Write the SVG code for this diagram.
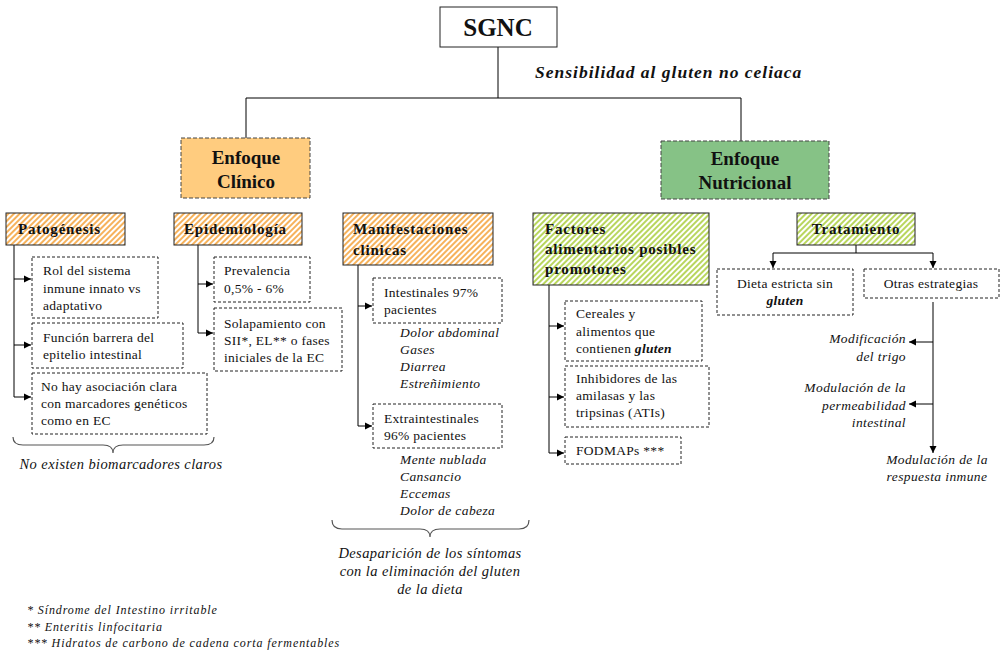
<svg xmlns="http://www.w3.org/2000/svg" width="1004" height="656" viewBox="0 0 1004 656" font-family="'Liberation Serif', 'DejaVu Serif', serif">
  <style>
    text { font-family: "Liberation Serif", "DejaVu Serif", serif; fill: #111; }
    .t { font-size: 13.5px; letter-spacing: 0.3px; }
    .ti { font-size: 13.5px; font-style: italic; letter-spacing: 0.4px; }
    .note { font-size: 14.5px; font-style: italic; letter-spacing: 0.4px; }
    .foot { font-size: 12px; font-style: italic; letter-spacing: 0.9px; }
    .h { font-size: 15px; font-weight: bold; letter-spacing: 0.8px; }
    .big { font-size: 19px; font-weight: bold; text-anchor: middle; }
    .c { text-anchor: middle; }
    .r { text-anchor: end; }
    .box { fill: #fff; stroke: #222; stroke-width: 1; stroke-dasharray: 3 2; }
    .hdr-o { fill: url(#hatchOrange); stroke: #222; stroke-width: 1; }
    .hdr-g { fill: url(#hatchGreen); stroke: #222; stroke-width: 1; }
    .ln { fill: none; stroke: #000; stroke-width: 1; }
    .arr { fill: none; stroke: #000; stroke-width: 1; marker-end: url(#ah); }
    .brace { fill: none; stroke: #555; stroke-width: 1.2; }
  </style>
  <defs>
    <pattern id="hatchOrange" width="4" height="4" patternUnits="userSpaceOnUse" patternTransform="rotate(45)">
      <rect width="4" height="4" fill="#fff"/>
      <rect width="2" height="4" fill="#F6B25C"/>
    </pattern>
    <pattern id="hatchGreen" width="4" height="4" patternUnits="userSpaceOnUse" patternTransform="rotate(45)">
      <rect width="4" height="4" fill="#fff"/>
      <rect width="2" height="4" fill="#B9D65E"/>
    </pattern>
    <marker id="ah" markerWidth="8" markerHeight="8" refX="7" refY="4" orient="auto" markerUnits="userSpaceOnUse">
      <path d="M0,0.5 L7,4 L0,7.5 z" fill="#000"/>
    </marker>
  </defs>

  <!-- connectors -->
  <g id="connectors">
    <path class="ln" d="M498,47 V98 M246,98 H741 M246,98 V138 M741,98 V141"/>
    <!-- Patogénesis -->
    <path class="ln" d="M14,245 V397"/>
    <path class="arr" d="M14,279 H31"/>
    <path class="arr" d="M14,345 H31"/>
    <path class="arr" d="M14,397 H31"/>
    <!-- Epidemiología -->
    <path class="ln" d="M198,245 V333"/>
    <path class="arr" d="M198,284 H213"/>
    <path class="arr" d="M198,333 H213"/>
    <!-- Manifestaciones clínicas -->
    <path class="ln" d="M358,265 V426"/>
    <path class="arr" d="M358,306 H372"/>
    <path class="arr" d="M358,426 H372"/>
    <!-- Factores alimentarios -->
    <path class="ln" d="M549,285 V453"/>
    <path class="arr" d="M549,326 H564"/>
    <path class="arr" d="M549,397 H564"/>
    <path class="arr" d="M549,453 H564"/>
    <!-- Tratamiento -->
    <path class="ln" d="M856,245 V253 M773,253 H933"/>
    <path class="arr" d="M773,253 V268"/>
    <path class="arr" d="M933,253 V268"/>
    <!-- Otras estrategias -->
    <path class="arr" d="M933,302 V453"/>
    <path class="arr" d="M933,342 H909"/>
    <path class="arr" d="M933,404 H909"/>
    <!-- braces -->
    <path class="brace" d="M13,437 Q13,445 23,445 L103,445 Q113,445 113,453 Q113,445 123,445 L204,445 Q214,445 214,437"/>
    <path class="brace" d="M332,520 Q332,529 342,529 L420,529 Q430,529 430,537 Q430,529 440,529 L519,529 Q529,529 529,520"/>
  </g>

  <!-- root -->
  <g id="sgnc">
    <rect x="440" y="7" width="117" height="40" fill="#fff" stroke="#222"/>
    <text x="498" y="36" class="c" style="font-size:25px;font-weight:bold">SGNC</text>
  </g>
  <g id="subtitle">
    <text x="535" y="78" style="font-size:17.5px;font-weight:bold;font-style:italic;letter-spacing:1px">Sensibilidad al gluten no celiaca</text>
  </g>

  <!-- main branches -->
  <g id="enfoque-clinico">
    <rect x="181" y="138" width="129" height="60" fill="#FFCC7F" stroke="#444" stroke-dasharray="4 2"/>
    <text x="246" y="164" class="big">Enfoque</text>
    <text x="246" y="188" class="big">Clínico</text>
  </g>
  <g id="enfoque-nutricional">
    <rect x="661" y="141" width="168" height="58" fill="#86C286" stroke="#444" stroke-dasharray="4 2"/>
    <text x="745" y="165" class="big">Enfoque</text>
    <text x="745" y="189" class="big">Nutricional</text>
  </g>

  <!-- Patogénesis -->
  <g id="patogenesis">
    <rect x="6" y="213" width="119" height="32" class="hdr-o"/>
    <text x="18" y="234" class="h">Patogénesis</text>
  </g>
  <g id="rol-sistema-inmune">
    <rect x="32" y="257" width="126" height="61" class="box"/>
    <text x="43" y="275" class="t">Rol del sistema</text>
    <text x="43" y="293" class="t">inmune innato vs</text>
    <text x="43" y="310" class="t">adaptativo</text>
  </g>
  <g id="funcion-barrera">
    <rect x="32" y="323" width="151" height="45" class="box"/>
    <text x="43" y="342" class="t">Función barrera del</text>
    <text x="43" y="359" class="t">epitelio intestinal</text>
  </g>
  <g id="marcadores-geneticos">
    <rect x="32" y="373" width="175" height="61" class="box"/>
    <text x="41" y="391" class="t">No hay asociación clara</text>
    <text x="41" y="408" class="t">con marcadores genéticos</text>
    <text x="41" y="425" class="t">como en EC</text>
  </g>
  <g id="nota-biomarcadores">
    <text x="121" y="469" class="note c">No existen biomarcadores claros</text>
  </g>

  <!-- Epidemiología -->
  <g id="epidemiologia">
    <rect x="174" y="213" width="128" height="32" class="hdr-o"/>
    <text x="184" y="234" class="h">Epidemiología</text>
  </g>
  <g id="prevalencia">
    <rect x="214" y="257" width="96" height="45" class="box"/>
    <text x="224" y="275" class="t">Prevalencia</text>
    <text x="224" y="293" class="t">0,5% - 6%</text>
  </g>
  <g id="solapamiento">
    <rect x="214" y="308" width="128" height="63" class="box"/>
    <text x="224" y="328" class="t">Solapamiento con</text>
    <text x="224" y="345" class="t">SII*, EL** o fases</text>
    <text x="224" y="362" class="t">iniciales de la EC</text>
  </g>

  <!-- Manifestaciones clínicas -->
  <g id="manifestaciones">
    <rect x="343" y="213" width="150" height="52" class="hdr-o"/>
    <text x="353" y="234" class="h">Manifestaciones</text>
    <text x="353" y="255" class="h">clinicas</text>
  </g>
  <g id="intestinales">
    <rect x="373" y="278" width="129" height="45" class="box"/>
    <text x="384" y="297" class="t">Intestinales 97%</text>
    <text x="384" y="314" class="t">pacientes</text>
  </g>
  <g id="sintomas-intestinales">
    <text x="400" y="337" class="ti">Dolor abdominal</text>
    <text x="400" y="354" class="ti">Gases</text>
    <text x="400" y="371" class="ti">Diarrea</text>
    <text x="400" y="388" class="ti">Estreñimiento</text>
  </g>
  <g id="extraintestinales">
    <rect x="373" y="404" width="129" height="44" class="box"/>
    <text x="384" y="423" class="t">Extraintestinales</text>
    <text x="384" y="440" class="t">96% pacientes</text>
  </g>
  <g id="sintomas-extraintestinales">
    <text x="400" y="464" class="ti">Mente nublada</text>
    <text x="400" y="481" class="ti">Cansancio</text>
    <text x="400" y="498" class="ti">Eccemas</text>
    <text x="400" y="515" class="ti">Dolor de cabeza</text>
  </g>
  <g id="nota-desaparicion">
    <text x="430" y="558" class="note c">Desaparición de los síntomas</text>
    <text x="430" y="576" class="note c">con la eliminación del gluten</text>
    <text x="430" y="594" class="note c">de la dieta</text>
  </g>

  <!-- Factores alimentarios -->
  <g id="factores">
    <rect x="533" y="213" width="176" height="72" class="hdr-g"/>
    <text x="545" y="234" class="h">Factores</text>
    <text x="545" y="254" class="h">alimentarios posibles</text>
    <text x="545" y="274" class="h">promotores</text>
  </g>
  <g id="cereales">
    <rect x="565" y="301" width="137" height="60" class="box"/>
    <text x="576" y="318" class="t">Cereales y</text>
    <text x="576" y="336" class="t">alimentos que</text>
    <text x="576" y="353" class="t">contienen <tspan font-weight="bold" font-style="italic">gluten</tspan></text>
  </g>
  <g id="inhibidores">
    <rect x="565" y="366" width="144" height="61" class="box"/>
    <text x="576" y="383" class="t">Inhibidores de las</text>
    <text x="576" y="400" class="t">amilasas y las</text>
    <text x="576" y="417" class="t">tripsinas (ATIs)</text>
  </g>
  <g id="fodmaps">
    <rect x="565" y="437" width="116" height="27" class="box"/>
    <text x="576" y="455" class="t">FODMAPs ***</text>
  </g>

  <!-- Tratamiento -->
  <g id="tratamiento">
    <rect x="797" y="213" width="118" height="32" class="hdr-g"/>
    <text x="856" y="234" class="h c">Tratamiento</text>
  </g>
  <g id="dieta-sin-gluten">
    <rect x="717" y="269" width="136" height="46" class="box"/>
    <text x="785" y="288" class="t c">Dieta estricta sin</text>
    <text x="785" y="305" class="t c" font-weight="bold" font-style="italic">gluten</text>
  </g>
  <g id="otras-estrategias">
    <rect x="864" y="269" width="135" height="29" class="box"/>
    <text x="931" y="288" class="t c">Otras estrategias</text>
  </g>
  <g id="modificacion-trigo">
    <text x="906" y="343" class="ti r">Modificación</text>
    <text x="906" y="361" class="ti r">del trigo</text>
  </g>
  <g id="modulacion-permeabilidad">
    <text x="906" y="392" class="ti r">Modulación de la</text>
    <text x="906" y="410" class="ti r">permeabilidad</text>
    <text x="906" y="427" class="ti r">intestinal</text>
  </g>
  <g id="modulacion-inmune">
    <text x="937" y="464" class="ti c">Modulación de la</text>
    <text x="937" y="481" class="ti c">respuesta inmune</text>
  </g>

  <!-- footnotes -->
  <g id="footnotes">
    <text x="27" y="614" class="foot">* Síndrome del Intestino irritable</text>
    <text x="27" y="631" class="foot">** Enteritis linfocitaria</text>
    <text x="27" y="647" class="foot">*** Hidratos de carbono de cadena corta fermentables</text>
  </g>
</svg>
